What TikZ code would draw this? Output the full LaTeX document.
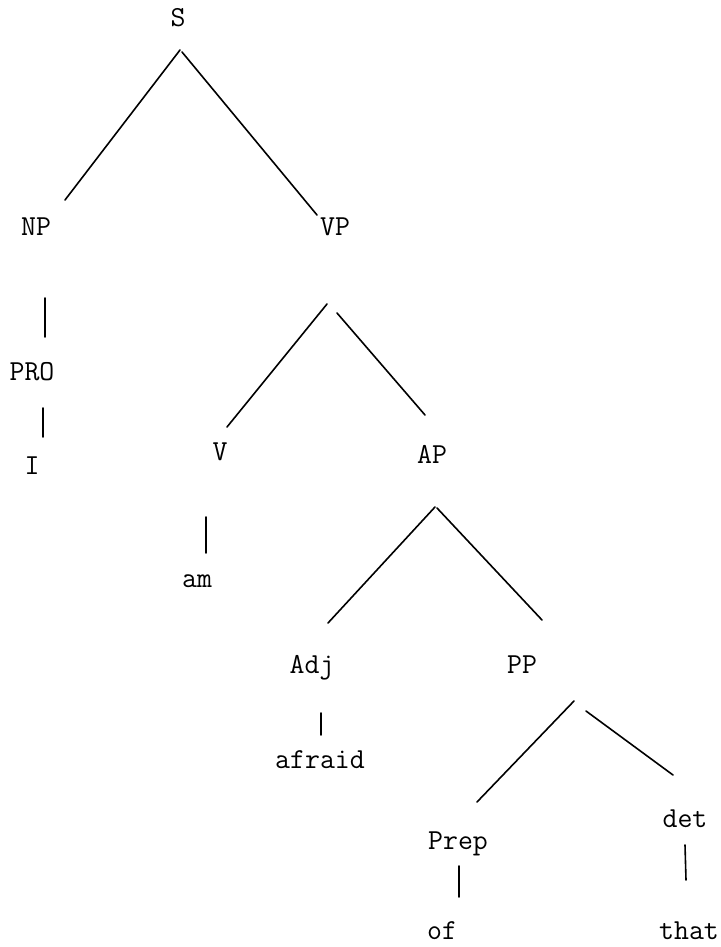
\documentclass[tikz,border=0pt]{standalone}
\begin{document}
\begin{tikzpicture}[x=1pt,y=-1pt,
  lbl/.style={anchor=base,inner sep=0pt,font=\fontsize{29}{34}\selectfont\ttfamily},
  edge/.style={line width=1.6pt,line cap=round}]
\useasboundingbox (0,0) rectangle (720,947);
% labels
\node[lbl] (S) at (178,27) {S};
\node[lbl] (NP) at (36,235) {NP};
\node[lbl] (VP) at (335,235) {VP};
\node[lbl] (PRO) at (32,380) {PRO};
\node[lbl] (I) at (32,474) {I};
\node[lbl] (V) at (220,460) {V};
\node[lbl] (AP) at (432,463) {AP};
\node[lbl] (am) at (197,587) {am};
\node[lbl] (Adj) at (312,673) {Adj};
\node[lbl] (PP) at (522,673) {PP};
\node[lbl] (afraid) at (320,768) {afraid};
\node[lbl] (Prep) at (458,849) {Prep};
\node[lbl] (det) at (685,827) {det};
\node[lbl] (of) at (442,939) {of};
\node[lbl] (that) at (689,939) {that};
% line end points
\coordinate (S-l) at (180,50);   \coordinate (NP-t) at (65,200);
\coordinate (S-r) at (182,52);   \coordinate (VP-t) at (317,215);
\coordinate (NP-b) at (45,298);  \coordinate (PRO-t) at (45,337);
\coordinate (PRO-b) at (43,408); \coordinate (I-t) at (43,437);
\coordinate (VP-l) at (327,304); \coordinate (V-t) at (227,427);
\coordinate (VP-r) at (337,313); \coordinate (AP-t) at (425,415);
\coordinate (V-b) at (206,517);  \coordinate (am-t) at (206,553);
\coordinate (AP-l) at (435,507); \coordinate (Adj-t) at (328,623);
\coordinate (AP-r) at (437,508); \coordinate (PP-t) at (542,620);
\coordinate (Adj-b) at (321,713); \coordinate (afraid-t) at (321,735);
\coordinate (PP-l) at (574,701); \coordinate (Prep-t) at (477,802);
\coordinate (PP-r) at (586,711); \coordinate (det-t) at (673,775);
\coordinate (Prep-b) at (459,866); \coordinate (of-t) at (459,897);
\coordinate (det-b) at (685,845); \coordinate (that-t) at (686,880);
% connectors
\draw[edge] (S-l) -- (NP-t);
\draw[edge] (S-r) -- (VP-t);
\draw[edge] (NP-b) -- (PRO-t);
\draw[edge] (PRO-b) -- (I-t);
\draw[edge] (VP-l) -- (V-t);
\draw[edge] (VP-r) -- (AP-t);
\draw[edge] (V-b) -- (am-t);
\draw[edge] (AP-l) -- (Adj-t);
\draw[edge] (AP-r) -- (PP-t);
\draw[edge] (Adj-b) -- (afraid-t);
\draw[edge] (PP-l) -- (Prep-t);
\draw[edge] (PP-r) -- (det-t);
\draw[edge] (Prep-b) -- (of-t);
\draw[edge] (det-b) -- (that-t);
\end{tikzpicture}
\end{document}
